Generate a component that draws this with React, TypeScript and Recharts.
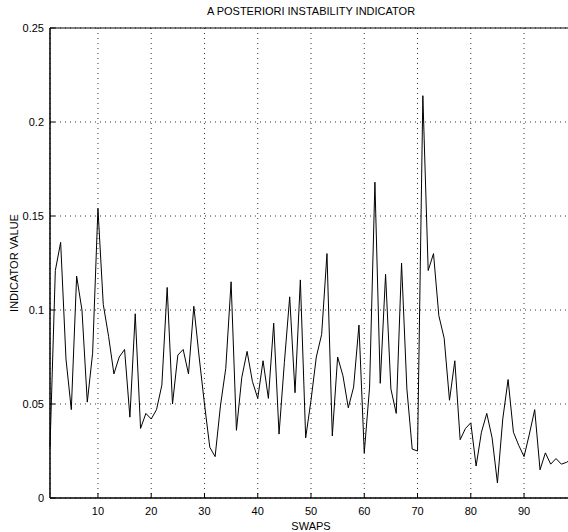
import { LineChart, Line, XAxis, YAxis, CartesianGrid } from 'recharts';

const swaps = [
    1, 2, 3, 4, 5, 6, 7, 8, 9, 10, 11, 12, 13, 14, 15, 16, 17, 18, 19, 20,
    21, 22, 23, 24, 25, 26, 27, 28, 29, 30, 31, 32, 33, 34, 35, 36, 37, 38, 39, 40,
    41, 42, 43, 44, 45, 46, 47, 48, 49, 50, 51, 52, 53, 54, 55, 56, 57, 58, 59, 60,
    61, 62, 63, 64, 65, 66, 67, 68, 69, 70, 71, 72, 73, 74, 75, 76, 77, 78, 79, 80,
    81, 82, 83, 84, 85, 86, 87, 88, 89, 90, 91, 92, 93, 94, 95, 96, 97, 98, 99,
];

const indicator = [
    0.027, 0.121, 0.136, 0.074, 0.047, 0.118, 0.1, 0.051, 0.077, 0.154,
    0.103, 0.086, 0.066, 0.075, 0.079, 0.043, 0.098, 0.037, 0.045, 0.042,
    0.047, 0.06, 0.112, 0.05, 0.076, 0.079, 0.066, 0.102, 0.075, 0.05,
    0.027, 0.022, 0.049, 0.069, 0.115, 0.036, 0.064, 0.078, 0.062, 0.053,
    0.073, 0.053, 0.093, 0.034, 0.072, 0.107, 0.056, 0.116, 0.032, 0.052,
    0.075, 0.087, 0.13, 0.033, 0.075, 0.065, 0.048, 0.059, 0.092, 0.024,
    0.059, 0.168, 0.061, 0.119, 0.058, 0.045, 0.125, 0.058, 0.026, 0.025,
    0.214, 0.121, 0.13, 0.097, 0.085, 0.052, 0.073, 0.031, 0.037, 0.04,
    0.017, 0.035, 0.045, 0.032, 0.008, 0.042, 0.063, 0.035, 0.028, 0.022,
    0.034, 0.047, 0.015, 0.024, 0.018, 0.021, 0.018, 0.019, 0.021,
];

const xTicks = [10, 20, 30, 40, 50, 60, 70, 80, 90];
const yTicks = [0, 0.05, 0.1, 0.15, 0.2, 0.25];

const data = swaps.map((s, i) => ({ swap: s, value: indicator[i] }));

const font = '"Liberation Sans", Arial, Helvetica, sans-serif';
const tickStyle = { fill: '#000', fontSize: 11, fontFamily: font };

const App = () => {
    return (
        <div style={{ position: 'absolute', top: 0, left: 0, width: 568, height: 532, overflow: 'hidden', background: '#fff' }}>
            <LineChart width={580} height={532} data={data} margin={{ top: 0, right: 8, left: 0, bottom: 0 }}>
                <CartesianGrid stroke="#333" strokeDasharray="1 4" verticalPoints={undefined} />
                <XAxis
                    dataKey="swap"
                    type="number"
                    domain={[1, 99]}
                    ticks={xTicks}
                    height={34}
                    axisLine={{ stroke: '#000', strokeWidth: 1.5 }}
                    tickLine={{ stroke: '#000' }}
                    tickSize={-5}
                    tickMargin={14}
                    tick={tickStyle}
                    label={{ value: 'SWAPS', position: 'insideBottom', offset: 2, fill: '#000', fontSize: 11, fontFamily: font }}
                />
                <XAxis
                    xAxisId="top"
                    orientation="top"
                    dataKey="swap"
                    type="number"
                    domain={[1, 99]}
                    ticks={xTicks}
                    height={28}
                    axisLine={{ stroke: '#000', strokeWidth: 1 }}
                    tickLine={{ stroke: '#000' }}
                    tickSize={-5}
                    tick={false}
                    label={{ value: 'A POSTERIORI INSTABILITY INDICATOR', position: 'insideTop', offset: 7, fill: '#000', fontSize: 11, fontFamily: font }}
                />
                <YAxis
                    type="number"
                    domain={[0, 0.25]}
                    ticks={yTicks}
                    width={50}
                    axisLine={{ stroke: '#000', strokeWidth: 1.5 }}
                    tickLine={{ stroke: '#000' }}
                    tickSize={-5}
                    tickMargin={11}
                    tick={tickStyle}
                    label={{ value: 'INDICATOR VALUE', angle: -90, position: 'center', dx: -11, fill: '#000', fontSize: 11, fontFamily: font }}
                />
                <Line
                    type="linear"
                    dataKey="value"
                    stroke="#000"
                    strokeWidth={1}
                    dot={false}
                    isAnimationActive={false}
                />
            </LineChart>
        </div>
    );
};

export default App;
